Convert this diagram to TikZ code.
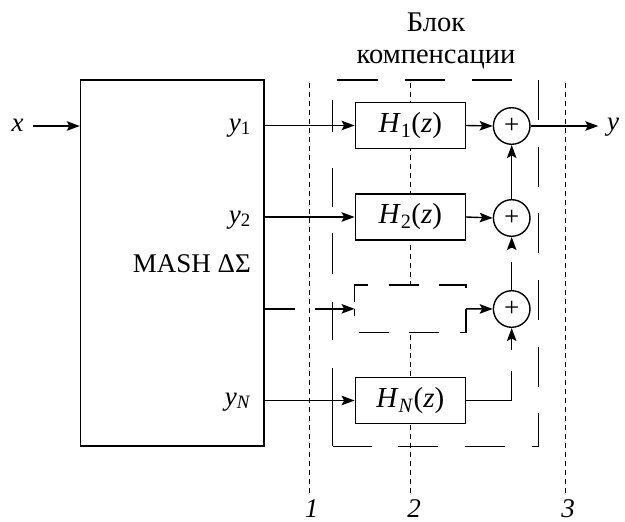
\documentclass[tikz,border=0pt]{standalone}
\usepackage{fontspec}
\setmainfont{Liberation Serif}
\usetikzlibrary{arrows.meta,calc}
\begin{document}
\begin{tikzpicture}[x=1pt,y=-1pt,
  lw/.style={line width=1.4pt},
  arr/.style={lw,-{Stealth[length=13pt,width=9.5pt,inset=2.5pt]}},
  hbox/.style={draw,lw,fill=white,minimum width=110pt,minimum height=46pt,inner sep=0pt,font=\fontsize{29}{33}\selectfont},
  sumnode/.style={circle,draw,lw,fill=white,minimum size=36.6pt,inner sep=0pt,font=\fontsize{27}{27}\selectfont},
  lbl/.style={font=\fontsize{27}{31.6}\selectfont,inner sep=0pt},
  ttl/.style={font=\fontsize{28.5}{31.6}\selectfont,inner sep=0pt},
  dotline/.style={line width=1.2pt,dash pattern=on 4.5pt off 4.5pt}
]
\useasboundingbox (0,0) rectangle (625,522);
% dotted section lines
\coordinate (d1t) at (309.6,83); \coordinate (d1b) at (309.6,493);
\coordinate (d2t) at (410.3,83); \coordinate (d2b) at (410.3,493);
\coordinate (d3t) at (565.7,83); \coordinate (d3b) at (565.7,493);
\draw[dotline] (d1t) -- (d1b);
\draw[dotline] (d2t) -- (d2b);
\draw[dotline] (d3t) -- (d3b);
% main blocks
\node[draw,lw,minimum width=183.5pt,minimum height=366pt,inner sep=0pt] (mash) at (172.25,263) {};
\node[draw=none,minimum width=205.8pt,minimum height=366pt,inner sep=0pt] (blk) at (435.6,263) {};
\draw[lw,dash pattern=on 0pt off 4.5pt on 41pt off 27pt on 40pt off 27pt on 40pt off 40pt] (blk.north west) -- (blk.north east);
\draw[lw,dash pattern=on 40pt off 26.7pt] (blk.north east) -- (blk.south east) -- (blk.south west);
\draw[lw,dash pattern=on 78pt off 28pt on 38pt off 28pt on 41pt off 26pt on 39pt off 36pt on 32pt off 40pt] (blk.south west) -- (blk.north west);
% filters
\node[hbox] (h1) at (410.3,125.5) {\textit{H}\textsubscript{1}(\textit{z})};
\node[hbox] (h2) at (410.3,217) {\textit{H}\textsubscript{2}(\textit{z})};
\node[hbox,draw=none] (hd) at (410.3,308.85) {};
\draw[lw,dash pattern=on 30pt off 20.5pt,dash phase=43.35pt] (hd.west) -- (hd.north west) -- (hd.north east) -- (hd.south east) -- (hd.south west) -- cycle;
\node[hbox] (hN) at (410.3,400.5) {\textit{H}\textsubscript{\textit{N}}(\textit{z})};
% adders
\node[sumnode] (s1) at (511.7,126) {+};
\node[sumnode] (s2) at (511.7,218) {+};
\node[sumnode] (s3) at (511.7,309) {+};
% labels
\node[lbl,anchor=base] (xl) at (17.5,131.8) {\textit{x}};
\coordinate (xs) at (33.3,126);
\node[lbl,anchor=base east] (ly1) at (251,131) {\textit{y}\textsubscript{1}};
\node[lbl,anchor=base east] (ly2) at (251,223) {\textit{y}\textsubscript{2}};
\node[lbl,anchor=base east] (lyN) at (251,405) {\textit{y}\textsubscript{\textit{N}}};
\node[lbl,anchor=base east] (lmash) at (251,272.7) {MASH ΔΣ};
\node[ttl,anchor=base] (t1) at (436,31.7) {Блок};
\node[ttl,anchor=base] (t2) at (436,63.3) {компенсации};
\coordinate (yend) at (598.3,126);
\node[lbl,anchor=base west] (lyo) at (607,130) {\textit{y}};
\node[lbl,anchor=base] (n1) at (311.5,517) {\textit{1}};
\node[lbl,anchor=base] (n2) at (414,517) {\textit{2}};
\node[lbl,anchor=base] (n3) at (568,517) {\textit{3}};
% connectors
\draw[arr] (xs) -- (mash.west |- xs);
\draw[arr] (mash.east |- h1.west) -- (h1.west);
\draw[arr] (mash.east |- h2.west) -- (h2.west);
\draw[arr,dash pattern=on 30pt off 20pt on 200pt] (mash.east |- hd.west) -- (hd.west);
\draw[arr] (mash.east |- hN.west) -- (hN.west);
\draw[arr] (h1.east) -- (s1.west);
\draw[arr] (h2.east) -- (s2.west);
\draw[arr] (hd.east) -- (s3.west);
\draw[arr] (s2.north) -- (s1.south);
\draw[arr,dash pattern=on 28pt off 14pt on 100pt] (s3.north) -- (s2.south);
\draw[arr,dash pattern=on 75.4pt off 21pt on 200pt] (hN.east) -| (s3.south);
\draw[arr] (s1.east) -- (yend);
\end{tikzpicture}
\end{document}
